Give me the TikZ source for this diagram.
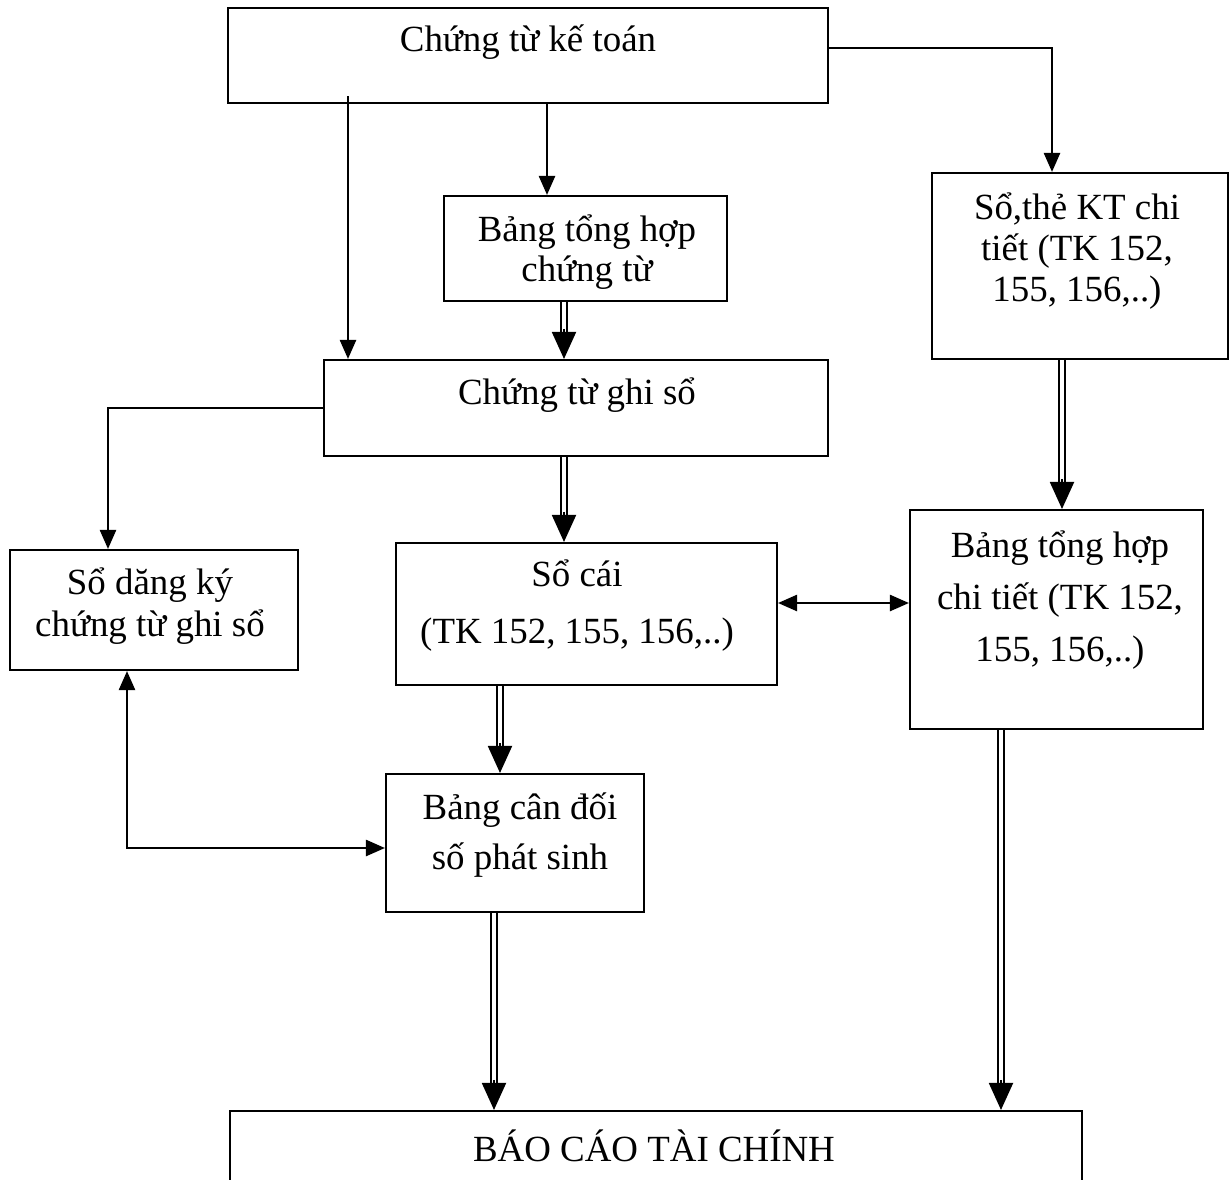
\documentclass[tikz,border=0pt]{standalone}
\usepackage{fontspec}
\setmainfont{Liberation Serif}
\usetikzlibrary{arrows.meta,calc}
\begin{document}
\begin{tikzpicture}[x=0.02cm,y=-0.02cm,
  box/.style={draw,line width=1.2pt,inner sep=0pt},
  txt/.style={inner sep=0pt,align=center,font=\fontsize{21}{24}\selectfont},
  one/.style={line width=1.4pt,-{Triangle[width=0.32cm,length=0.38cm]}},
  both/.style={line width=1.4pt,{Triangle[width=0.32cm,length=0.38cm]}-{Triangle[width=0.32cm,length=0.38cm]}},
  dblshaft/.style={double,line width=1.15pt,double distance=2.3pt,shorten >=0.5cm},
  dbltip/.style={line width=1.1pt,-{Triangle[width=0.48cm,length=0.54cm]}},
]
\clip (0,0) rectangle (1231,1180);
\fill[white] (0,0) rectangle (1231,1180);

% boxes
\node[box,minimum width=12cm,minimum height=1.9cm] (ctkt) at (528,55.5) {};
\node[box,minimum width=5.66cm,minimum height=2.1cm] (bthct) at (585.5,248.5) {};
\node[box,minimum width=5.92cm,minimum height=3.72cm] (sothe) at (1080,266) {};
\node[box,minimum width=10.08cm,minimum height=1.92cm] (ctgs) at (576,408) {};
\node[box,minimum width=5.76cm,minimum height=2.4cm] (sodk) at (154,610) {};
\node[box,minimum width=7.62cm,minimum height=2.84cm] (socai) at (586.5,614) {};
\node[box,minimum width=5.86cm,minimum height=4.38cm] (bthchi) at (1056.5,619.5) {};
\node[box,minimum width=5.16cm,minimum height=2.76cm] (cdps) at (515,843) {};
\node[box,minimum width=17.04cm,minimum height=1.8cm] (bctc) at (656,1156) {};

% texts
\node[txt] (t-ctkt) at (528,42) {Chứng từ kế toán};
\node[txt,font=\fontsize{21}{22.8}\selectfont] (t-bthct) at (587,252) {Bảng tổng hợp\\chứng từ};
\node[txt,font=\fontsize{21}{23.4}\selectfont] (t-sothe) at (1077,251) {Sổ,thẻ KT chi\\tiết (TK 152,\\155, 156,..)};
\node[txt] (t-ctgs) at (577,395) {Chứng từ ghi sổ};
\node[txt] (t-sodk) at (150,606) {Sổ dăng ký\\chứng từ ghi sổ};
\node[txt,font=\fontsize{21}{32.4}\selectfont] (t-socai) at (577,606) {Sổ cái\\(TK 152, 155, 156,..)};
\node[txt,font=\fontsize{21}{29.6}\selectfont] (t-bthchi) at (1060,600) {Bảng tổng hợp\\chi tiết (TK 152,\\155, 156,..)};
\node[txt,font=\fontsize{21}{28.5}\selectfont] (t-cdps) at (520,835) {Bảng cân đối\\số phát sinh};
\node[txt,font=\fontsize{21}{24}\selectfont] (t-bctc) at (654,1146) {BÁO CÁO TÀI CHÍNH};

% x positions of the vertical connectors
\coordinate (x108) at (108,0);
\coordinate (x127) at (127,0);
\coordinate (x348) at (348,0);
\coordinate (x494) at (494,0);
\coordinate (x500) at (500,0);
\coordinate (x547) at (547,0);
\coordinate (x564) at (564,0);
\coordinate (x1001) at (1001,0);
\coordinate (x1052) at (1052,0);
\coordinate (x1062) at (1062,0);
% y positions of the horizontal connectors
\coordinate (y48) at (0,48);
\coordinate (y408) at (0,408);
\coordinate (y603) at (0,603);
\coordinate (y848) at (0,848);

% single connectors
\draw[one] ($(ctkt.south -| x348)+(0,-8)$) -- (ctgs.north -| x348);
\draw[one] (ctkt.south -| x547) -- (bthct.north -| x547);
\draw[one] (ctkt.east |- y48) -| (sothe.north -| x1052);
\draw[one] (ctgs.west |- y408) -| (sodk.north -| x108);
\draw[both] (socai.east |- y603) -- (bthchi.west |- y603);
\draw[both] (sodk.south -| x127) |- (cdps.west |- y848);

% double connectors
\draw[dblshaft] (bthct.south -| x564) -- (ctgs.north -| x564);
\draw[dbltip] ($(ctgs.north -| x564)+(0,-30)$) -- (ctgs.north -| x564);
\draw[dblshaft] (sothe.south -| x1062) -- (bthchi.north -| x1062);
\draw[dbltip] ($(bthchi.north -| x1062)+(0,-30)$) -- (bthchi.north -| x1062);
\draw[dblshaft] (ctgs.south -| x564) -- (socai.north -| x564);
\draw[dbltip] ($(socai.north -| x564)+(0,-30)$) -- (socai.north -| x564);
\draw[dblshaft] (socai.south -| x500) -- (cdps.north -| x500);
\draw[dbltip] ($(cdps.north -| x500)+(0,-30)$) -- (cdps.north -| x500);
\draw[dblshaft] (cdps.south -| x494) -- (bctc.north -| x494);
\draw[dbltip] ($(bctc.north -| x494)+(0,-30)$) -- (bctc.north -| x494);
\draw[dblshaft] (bthchi.south -| x1001) -- (bctc.north -| x1001);
\draw[dbltip] ($(bctc.north -| x1001)+(0,-30)$) -- (bctc.north -| x1001);
\end{tikzpicture}
\end{document}
